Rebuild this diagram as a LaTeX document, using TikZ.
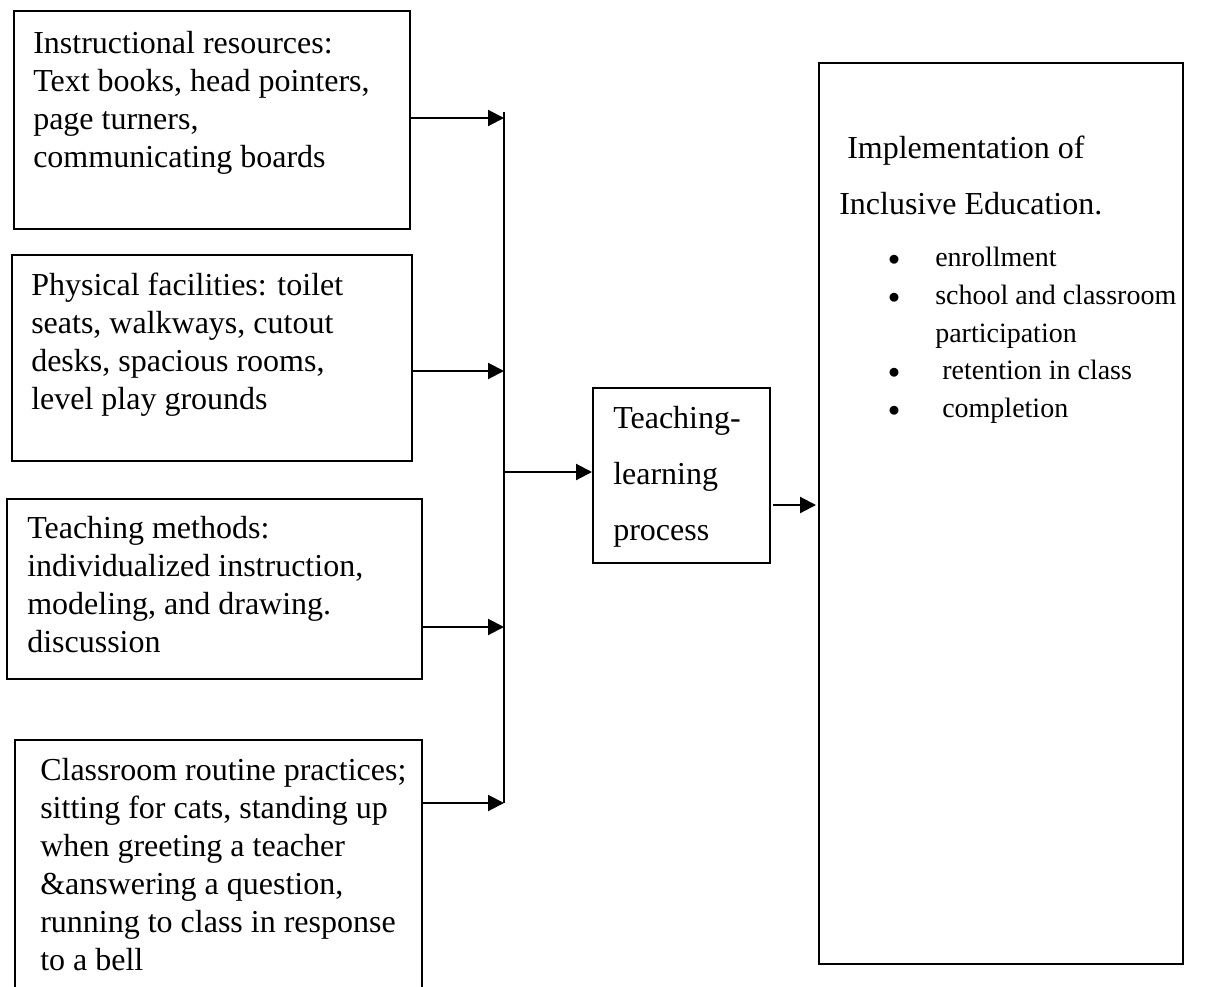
\documentclass[tikz,border=0pt]{standalone}
\usepackage{fontspec}
\setmainfont{Liberation Serif}
\usetikzlibrary{arrows.meta}

\tikzset{
    box/.style={draw, line width=1.6pt, anchor=north west, inner sep=0pt},
    txt/.style={anchor=north west, align=left, inner sep=0pt, font=\fontsize{24}{28.5}\selectfont},
    widetxt/.style={txt, font=\fontsize{24}{42}\selectfont},
    listtxt/.style={txt, font=\fontsize{21}{28.3}\selectfont},
    arr/.style={line width=1.6pt, -{Triangle[length=12pt,width=12pt]}},
}
\newcommand{\itm}[1]{\makebox[35.25pt][l]{\raisebox{1pt}{\fontsize{17}{17}\selectfont$\bullet$}}#1}

\begin{document}
\begin{tikzpicture}[x=0.75pt, y=-0.75pt]
    \useasboundingbox (0,0) rectangle (1210,986);

    % Input boxes
    \node[box, minimum width=297pt, minimum height=163.5pt] (res) at (13,10) {};
    \node[txt] (resT) at (33,31) {Instructional resources:\\Text books, head pointers,\\page turners,\\communicating boards};

    \node[box, minimum width=300pt, minimum height=154.5pt] (fac) at (11,254) {};
    \node[txt] (facT) at (31,273) {Physical facilities: toilet\\seats, walkways, cutout\\desks, spacious rooms,\\level play grounds};

    \node[box, minimum width=311.25pt, minimum height=135pt] (meth) at (6,498) {};
    \node[txt] (methT) at (27,516) {Teaching methods:\\individualized instruction,\\modeling, and drawing.\\discussion};

    \node[box, minimum width=305.25pt, minimum height=240pt] (rout) at (14,739) {};
    \node[txt] (routT) at (40,758) {Classroom routine practices;\\sitting for cats, standing up\\when greeting a teacher\\\&answering a question,\\running to class in response\\to a bell};

    % Process box
    \node[box, minimum width=132.75pt, minimum height=131.25pt] (teach) at (592,387) {};
    \node[widetxt] (teachT) at (613,406) {Teaching-\\learning\\process};

    % Outcome box
    \node[box, minimum width=273pt, minimum height=675.75pt] (impl) at (818,62) {};
    \node[widetxt] (implT) at (839,136) {\hspace*{6pt}Implementation of\\Inclusive Education.};
    \node[listtxt] (implL) at (888,247) {\itm{enrollment}\\\itm{school and classroom}\\\makebox[35.25pt]{}participation\\\itm{\ retention in class}\\\itm{\ completion}};

    % Collecting line
    \coordinate (busTop) at (504,112);
    \coordinate (busBot) at (504,803);
    \coordinate (j1) at (504,118);
    \coordinate (j2) at (504,371);
    \coordinate (j3) at (504,627);
    \coordinate (j4) at (504,803);
    \coordinate (jOut) at (504,472);
    \coordinate (tOut) at (773,505);
    \draw[line width=1.6pt] (busTop) -- (busBot);

    % Arrows
    \draw[arr] (res.east |- j1) -- (j1);
    \draw[arr] (fac.east |- j2) -- (j2);
    \draw[arr] (meth.east |- j3) -- (j3);
    \draw[arr] (rout.east |- j4) -- (j4);
    \draw[arr] (jOut) -- (teach.west |- jOut);
    \draw[arr, shorten >=1.5pt] (tOut) -- (impl.west |- tOut);
\end{tikzpicture}
\end{document}
